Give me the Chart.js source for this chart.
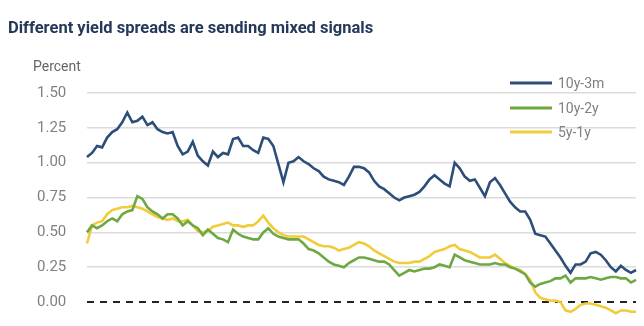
<!DOCTYPE html>
<html>
<head>
<meta charset="utf-8">
<title>Yield spreads</title>
<script src="https://cdn.jsdelivr.net/npm/chart.js@4.4.1/dist/chart.umd.min.js"></script>
<style>
  html, body { margin: 0; padding: 0; background: #fff; }
  #wrap { position: relative; width: 644px; height: 326px; }
</style>
</head>
<body>
<div id="wrap"><canvas id="spread-chart"></canvas></div>
<script>
// weekly readings of three treasury spreads, percent
const seriesNames = ['10y-3m', '10y-2y', '5y-1y'];
const seriesColors = ['#2c4e78', '#6ea843', '#f2cb3a'];

const tenYear3m = [
  1.04, 1.07, 1.12, 1.11, 1.18, 1.22, 1.24, 1.29, 1.36, 1.29,
  1.30, 1.33, 1.27, 1.29, 1.24, 1.22, 1.21, 1.22, 1.12, 1.06,
  1.08, 1.15, 1.05, 1.01, 0.98, 1.08, 1.04, 1.07, 1.06, 1.17,
  1.18, 1.12, 1.12, 1.09, 1.07, 1.18, 1.17, 1.12, 0.99, 0.86,
  1.00, 1.01, 1.04, 1.01, 0.99, 0.96, 0.94, 0.90, 0.88, 0.87,
  0.86, 0.84, 0.90, 0.97, 0.97, 0.96, 0.93, 0.87, 0.83, 0.81,
  0.78, 0.75, 0.73, 0.75, 0.76, 0.77, 0.79, 0.83, 0.88, 0.91,
  0.88, 0.85, 0.83, 1.00, 0.96, 0.90, 0.87, 0.88, 0.82, 0.76,
  0.86, 0.89, 0.84, 0.78, 0.72, 0.68, 0.65, 0.65, 0.59, 0.49,
  0.48, 0.47, 0.42, 0.37, 0.32, 0.26, 0.21, 0.27, 0.27, 0.29,
  0.35, 0.36, 0.34, 0.30, 0.25, 0.22, 0.26, 0.23, 0.21, 0.23
];

const tenYear2y = [
  0.50, 0.55, 0.53, 0.55, 0.58, 0.60, 0.58, 0.63, 0.65, 0.66,
  0.76, 0.74, 0.68, 0.65, 0.63, 0.60, 0.63, 0.63, 0.60, 0.55,
  0.58, 0.55, 0.53, 0.48, 0.52, 0.49, 0.46, 0.45, 0.43, 0.52,
  0.49, 0.47, 0.46, 0.45, 0.45, 0.50, 0.53, 0.49, 0.47, 0.46,
  0.45, 0.45, 0.45, 0.42, 0.38, 0.37, 0.35, 0.32, 0.29, 0.27,
  0.26, 0.25, 0.28, 0.30, 0.32, 0.32, 0.31, 0.30, 0.29, 0.29,
  0.27, 0.23, 0.19, 0.21, 0.23, 0.22, 0.23, 0.24, 0.24, 0.25,
  0.27, 0.26, 0.25, 0.34, 0.32, 0.30, 0.29, 0.28, 0.27, 0.27,
  0.27, 0.28, 0.27, 0.27, 0.25, 0.24, 0.22, 0.20, 0.14, 0.11,
  0.13, 0.14, 0.15, 0.17, 0.17, 0.19, 0.14, 0.17, 0.17, 0.17,
  0.18, 0.17, 0.16, 0.17, 0.18, 0.18, 0.17, 0.17, 0.14, 0.16
];

const fiveYear1y = [
  0.42, 0.55, 0.57, 0.58, 0.63, 0.66, 0.67, 0.68, 0.68, 0.69,
  0.68, 0.67, 0.65, 0.63, 0.61, 0.60, 0.59, 0.60, 0.58, 0.58,
  0.59, 0.55, 0.51, 0.50, 0.51, 0.54, 0.55, 0.56, 0.57, 0.55,
  0.55, 0.54, 0.55, 0.55, 0.58, 0.62, 0.57, 0.53, 0.50, 0.48,
  0.47, 0.47, 0.47, 0.47, 0.45, 0.43, 0.41, 0.40, 0.40, 0.39,
  0.37, 0.38, 0.39, 0.41, 0.43, 0.42, 0.40, 0.37, 0.35, 0.33,
  0.31, 0.29, 0.28, 0.28, 0.28, 0.29, 0.29, 0.31, 0.33, 0.36,
  0.37, 0.38, 0.40, 0.41, 0.38, 0.37, 0.36, 0.34, 0.32, 0.32,
  0.32, 0.34, 0.31, 0.28, 0.26, 0.24, 0.23, 0.20, 0.16, 0.07,
  0.03, 0.02, 0.01, 0.01, 0.00, -0.06, -0.07, -0.05, -0.02, -0.01,
  -0.01, -0.02, -0.03, -0.04, -0.06, -0.08, -0.06, -0.06, -0.07, -0.07
];

const yTicks = [0, 0.25, 0.5, 0.75, 1, 1.25, 1.5];

const labels = tenYear3m.map((_, i) => i + 1);

// title, unit label, zero line and the little legend in the top right
const decorations = {
    id: 'decorations',
    beforeDatasetsDraw(chart) {
        const { ctx, chartArea, scales } = chart;
        const y0 = scales.y.getPixelForValue(0);
        ctx.save();
        ctx.strokeStyle = '#222';
        ctx.lineWidth = 2;
        ctx.setLineDash([7, 6]);
        ctx.beginPath();
        ctx.moveTo(chartArea.left, y0);
        ctx.lineTo(chartArea.right, y0);
        ctx.stroke();
        ctx.restore();
    },
    afterDraw(chart) {
        const ctx = chart.ctx;
        ctx.save();
        ctx.textBaseline = 'middle';
        ctx.textAlign = 'left';

        ctx.fillStyle = '#24385a';
        ctx.font = 'bold 16.5px Roboto';
        ctx.fillText('Different yield spreads are sending mixed signals', 8, 29);

        ctx.fillStyle = '#666';
        ctx.font = '14px Roboto';
        ctx.fillText('Percent', 33, 67);

        const rows = [83, 108, 132];
        seriesNames.forEach((name, i) => {
            ctx.strokeStyle = seriesColors[i];
            ctx.lineWidth = 3;
            ctx.beginPath();
            ctx.moveTo(510, rows[i]);
            ctx.lineTo(552, rows[i]);
            ctx.stroke();
            ctx.fillStyle = '#808080';
            ctx.font = '14px Roboto';
            ctx.fillText(name, 558, rows[i] + 1);
        });
        ctx.restore();
    }
};

const datasets = [tenYear3m, tenYear2y, fiveYear1y].map((values, i) => ({
    label: seriesNames[i],
    data: values,
    borderColor: seriesColors[i],
    borderWidth: 2.6,
    pointRadius: 0,
    tension: 0
}));

new Chart(document.getElementById('spread-chart'), {
    type: 'line',
    data: { labels: labels, datasets: datasets },
    options: {
        responsive: true,
        maintainAspectRatio: false,
        animation: false,
        layout: { padding: { top: 93, left: 37, right: 8, bottom: 10 } },
        plugins: {
            legend: { display: false },
            title: { display: false },
            tooltip: { enabled: false }
        },
        scales: {
            x: { display: false, offset: false },
            y: {
                min: -0.1,
                max: 1.5,
                afterBuildTicks: scale => { scale.ticks = yTicks.map(v => ({ value: v })); },
                afterFit: scale => { scale.width = 50; },
                border: { display: false },
                grid: {
                    drawTicks: false,
                    lineWidth: 1.5,
                    color: ctx => ctx.tick && ctx.tick.value === 0 ? 'rgba(0,0,0,0)' : '#dcdcdc'
                },
                ticks: {
                    crossAlign: 'far',
                    padding: 0,
                    color: '#808080',
                    font: { family: 'Roboto', size: 15 },
                    callback: v => v.toFixed(2)
                }
            }
        }
    },
    plugins: [decorations]
});
</script>
</body>
</html>
